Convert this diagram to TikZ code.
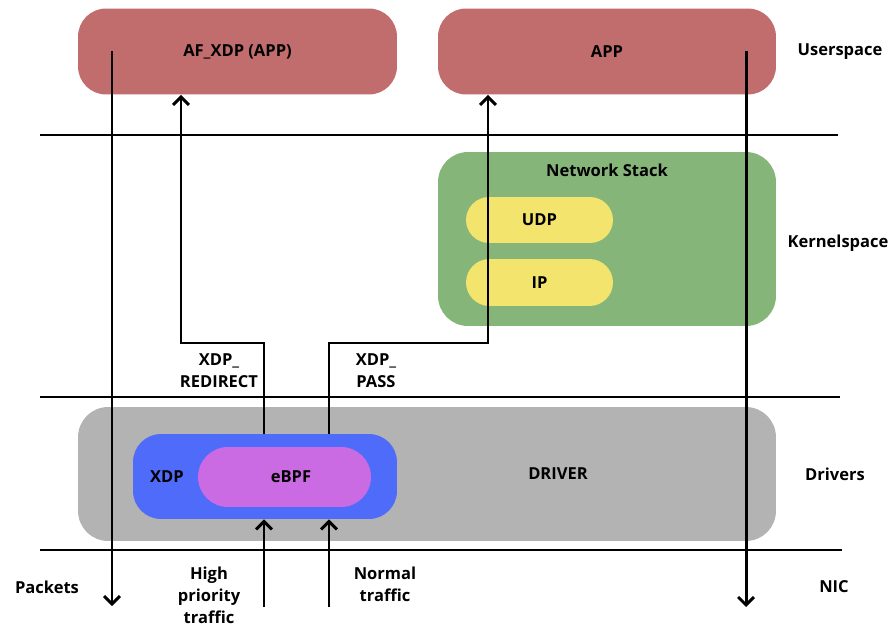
\documentclass[tikz,border=0pt]{standalone}
\usepackage{fontspec}
\setmainfont{Open Sans}
\usetikzlibrary{arrows.meta}

\definecolor{appred}{HTML}{C16D6D}
\definecolor{stackgreen}{HTML}{86B57A}
\definecolor{protoyellow}{HTML}{F3E46D}
\definecolor{drivergrey}{HTML}{B3B3B3}
\definecolor{xdpblue}{HTML}{4F6BFA}
\definecolor{ebpfpink}{HTML}{CB6BE3}

\begin{document}
\begin{tikzpicture}[x=0.02cm, y=-0.02cm,
  font=\bfseries\fontsize{9.4}{12.5}\selectfont,
  box/.style={fill=#1, inner sep=0, rounded corners=0.56cm},
  pill/.style={fill=#1, inner sep=0},
  layer/.style={line width=1.7pt},
  flow/.style={line width=1.7pt, -{Straight Barb[length=4.5pt,width=9pt]}},
  tag/.style={align=center, inner sep=0}]
\useasboundingbox (0,0) rectangle (893,625);

% userspace
\node[box=appred, minimum width=6.38cm, minimum height=1.72cm] (afxdp) at (237.5,51.5) {AF\_XDP (APP)};
\node[box=appred, minimum width=6.76cm, minimum height=1.72cm] (app) at (607,51.5) {APP};
\node[tag] (user) at (840,52) {Userspace};

% kernelspace
\node[box=stackgreen, minimum width=6.76cm, minimum height=3.48cm, rounded corners=0.6cm] (stack) at (607,239) {};
\node[tag] (stacklbl) at (607,170) {Network Stack};
\node[pill=protoyellow, minimum width=2.94cm, minimum height=0.92cm, rounded corners=0.46cm] (udp) at (539.5,220) {UDP};
\node[pill=protoyellow, minimum width=2.94cm, minimum height=0.94cm, rounded corners=0.47cm] (ip) at (539.5,282.5) {IP};
\node[tag] (kernel) at (838,243) {Kernelspace};

% drivers
\node[box=drivergrey, minimum width=13.96cm, minimum height=2.68cm, rounded corners=0.6cm] (driver) at (427,474) {};
\node[tag] (driverlbl) at (558,474) {DRIVER};
\node[box=xdpblue, minimum width=5.28cm, minimum height=1.7cm] (xdp) at (265,476.5) {};
\node[tag] (xdplbl) at (167,477) {XDP};
\node[pill=ebpfpink, minimum width=3.46cm, minimum height=1.2cm, rounded corners=0.6cm] (ebpf) at (284.5,477) {};
\node[tag] (ebpflbl) at (291,477) {eBPF};
\node[tag] (drivers) at (835,474) {Drivers};

% nic
\node[tag] (nic) at (834,587) {NIC};
\node[tag] (packets) at (47,587) {Packets};
\node[tag] (high) at (209,595) {High\\priority\\traffic};
\node[tag] (normal) at (385,584) {Normal\\traffic};
\node[tag] (redirlbl) at (219,371) {XDP\_\\REDIRECT};
\node[tag] (passlbl) at (376,371) {XDP\_\\PASS};

% layer borders
\draw[layer] (40,135) -- (838,135);
\draw[layer] (40,397) -- (840,397);
\draw[layer] (40,550) -- (842,550);

% packet paths
\coordinate (pk) at (112,606);
\coordinate (appout) at (746,607);
\coordinate (redir) at (264,343);
\coordinate (redirup) at (181,343);
\coordinate (pass) at (329,343);
\coordinate (passup) at (488,343);
\coordinate (hp) at (264,607);
\coordinate (np) at (329,607);
\draw[flow] (afxdp.center -| pk) -- (pk);
\draw[flow] (app.center -| appout) -- (appout);
\draw[flow] (xdp.north -| redir) -- (redir) -- (redirup) -- (afxdp.south -| redirup);
\draw[flow] (xdp.north -| pass) -- (pass) -- (passup) -- (app.south -| passup);
\draw[flow] (hp) -- (xdp.south -| hp);
\draw[flow] (np) -- (xdp.south -| np);
\end{tikzpicture}
\end{document}
